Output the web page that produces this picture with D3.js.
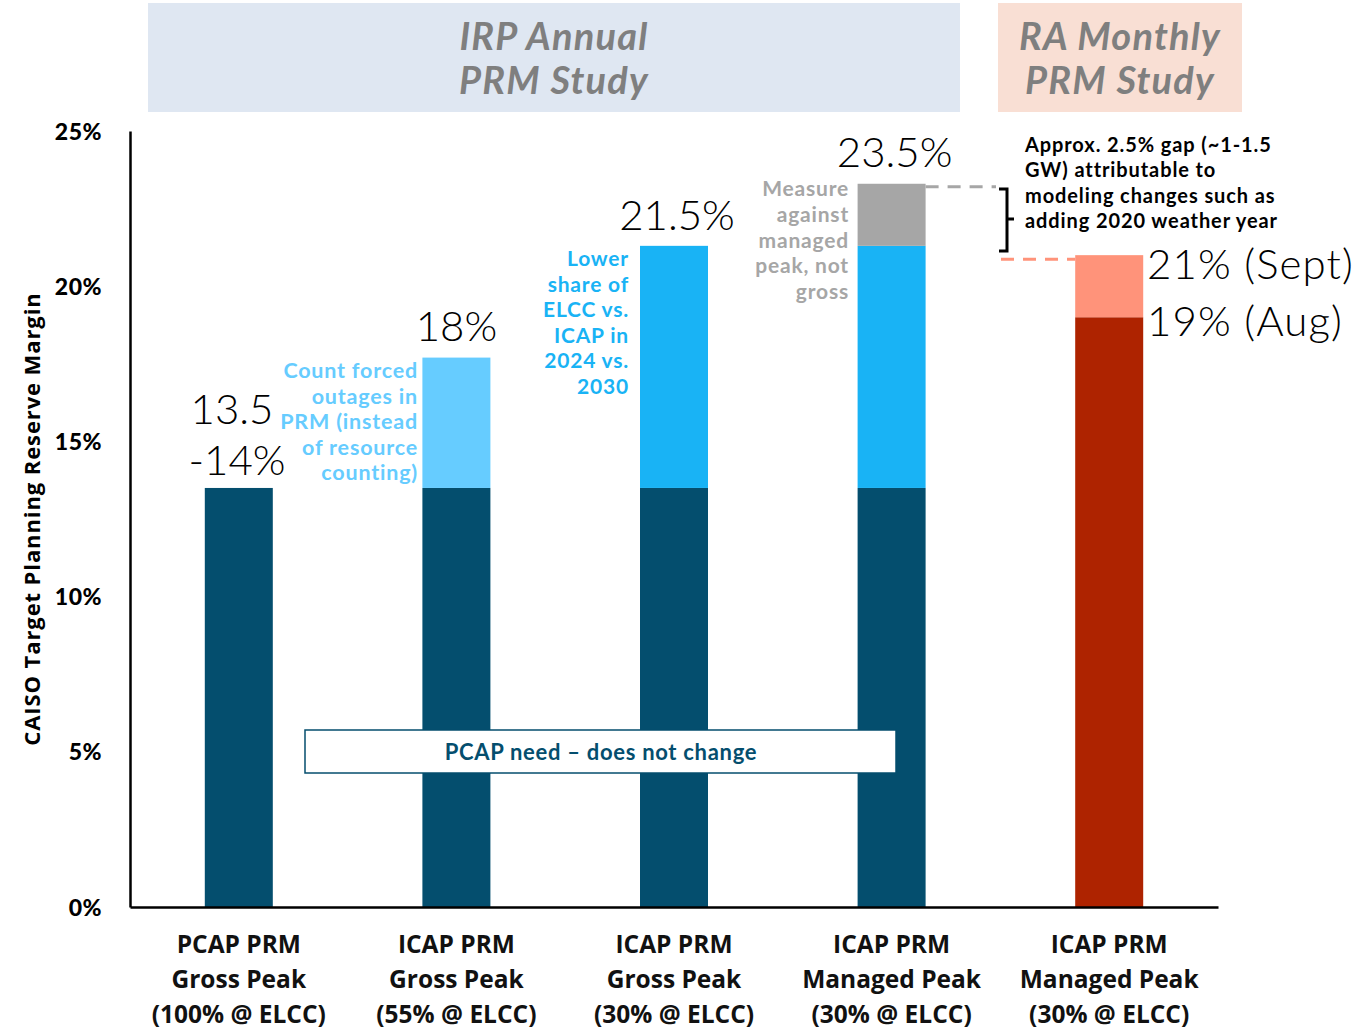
<!DOCTYPE html>
<html>
<head>
<meta charset="utf-8">
<style>
  *{margin:0;padding:0;box-sizing:border-box}
  body{background:#fff;width:1357px;height:1030px;overflow:hidden}
  svg{display:block}
</style>
</head>
<body>
<svg id="g"></svg>
<script src="https://cdn.jsdelivr.net/npm/d3@7/dist/d3.min.js"></script>
<script>
// data
const categories=['c1','c2','c3','c4','c5'];
const catLabels=[
  ['PCAP PRM','Gross Peak','(100% @ ELCC)'],
  ['ICAP PRM','Gross Peak','(55% @ ELCC)'],
  ['ICAP PRM','Gross Peak','(30% @ ELCC)'],
  ['ICAP PRM','Managed Peak','(30% @ ELCC)'],
  ['ICAP PRM','Managed Peak','(30% @ ELCC)']
];
const pcapBase=[13.5,13.5,13.5,13.5,0];
const forcedOutages=[0,4.2,0,0,0];
const lowerShare=[0,0,7.8,7.8,0];
const managedPeak=[0,0,0,2.0,0];
const raAug=[0,0,0,0,19];
const raSept=[0,0,0,0,2.0];
const yTicks=[0,5,10,15,20,25];

const DARK='#044E6E', LIGHT='#66CCFF', SKY='#19B3F5', GRAY='#A6A6A6', RED='#AE2300', SALMON='#FF937A';
const series=[
  {vals:pcapBase,color:DARK},
  {vals:forcedOutages,color:LIGHT},
  {vals:lowerShare,color:SKY},
  {vals:managedPeak,color:GRAY},
  {vals:raAug,color:RED},
  {vals:raSept,color:SALMON}
];

const W=1357,H=1030;
const svg=d3.select('#g').attr('width',W).attr('height',H);

const x=d3.scaleBand().domain(categories).range([130,1218]).paddingInner(0.6875).paddingOuter(0.34375);
const y=d3.scaleLinear().domain([0,25]).range([907,131]);

const GOTHIC='"Lato","Open Sans",sans-serif';
const CAL='"Open Sans","Noto Sans",sans-serif';

// header boxes
svg.append('rect').attr('x',148).attr('y',3).attr('width',812).attr('height',109).attr('fill','#DFE7F2');
svg.append('rect').attr('x',998).attr('y',3).attr('width',244).attr('height',109).attr('fill','#F9DFD4');
[[554,['IRP Annual','PRM Study']],[1120,['RA Monthly','PRM Study']]].forEach(([cx,lines])=>{
  lines.forEach((t,i)=>svg.append('text').attr('x',cx).attr('y',50+i*44)
    .attr('text-anchor','middle').attr('font-family',GOTHIC).attr('font-style','italic')
    .attr('font-weight',700).attr('font-size',38).attr('letter-spacing',1.2).attr('fill','#7F7F7F').text(t));
});

// stacked bars
const cum=categories.map(()=>0);
series.forEach(s=>{
  categories.forEach((c,i)=>{
    const v=s.vals[i];
    if(!v) return;
    const y0=cum[i], y1=cum[i]+v;
    cum[i]=y1;
    svg.append('rect').attr('x',x(c)).attr('width',x.bandwidth())
      .attr('y',y(y1)).attr('height',y(y0)-y(y1)).attr('fill',s.color);
  });
});

// axes
const yAxis=svg.append('g').attr('transform','translate(130,0)')
  .call(d3.axisLeft(y).tickValues(yTicks).tickSize(0).tickPadding(28).tickFormat(d=>d+'%'));
yAxis.select('.domain').attr('stroke','#000').attr('stroke-width',2.5);
yAxis.selectAll('text').attr('font-family',GOTHIC).attr('font-weight',900).attr('font-size',23)
  .attr('letter-spacing',0.5).attr('fill','#000').attr('dy','0.35em');

const xAxis=svg.append('g').attr('transform','translate(0,907)')
  .call(d3.axisBottom(x).tickSize(0).tickFormat(''));
xAxis.select('.domain').attr('stroke','#000').attr('stroke-width',2.5);

categories.forEach((c,i)=>{
  catLabels[i].forEach((t,j)=>svg.append('text').attr('x',x(c)+x.bandwidth()/2).attr('y',953+j*35)
    .attr('text-anchor','middle').attr('font-family',CAL).attr('font-weight',700)
    .attr('font-size',24.5).attr('fill','#111').text(t));
});

svg.append('text').attr('transform','translate(40,519) rotate(-90)')
  .attr('text-anchor','middle').attr('font-family',CAL).attr('font-weight',700)
  .attr('font-size',22).attr('letter-spacing',0.9).attr('fill','#000').text('CAISO Target Planning Reserve Margin');

// PCAP box
svg.append('rect').attr('x',305).attr('y',730).attr('width',591).attr('height',43)
  .attr('fill','#fff').attr('stroke',DARK).attr('stroke-width',1.5);
svg.append('text').attr('x',601).attr('y',760).attr('text-anchor','middle')
  .attr('font-family',GOTHIC).attr('font-weight',700).attr('font-size',22).attr('letter-spacing',0.7).attr('fill',DARK)
  .text('PCAP need – does not change');

// value labels
function big(t,xx,yy,anchor,ls){
  svg.append('text').attr('x',xx).attr('y',yy).attr('text-anchor',anchor||'middle')
    .attr('font-family',GOTHIC).attr('font-weight',300).attr('font-size',42)
    .attr('letter-spacing',ls||0).attr('fill','#000').text(t);
}
const cx=i=>x(categories[i])+x.bandwidth()/2;
big('13.5',232,424);
big('-14%',237,475);
big('18%',cx(1),341);
big('21.5%',cx(2)+3,230);
big('23.5%',cx(3)+3,167);
big('21% (Sept)',1147,279,'start',1.1);
big('19% (Aug)',1147,336,'start',1.1);

// side notes
function note(lines,xx,yy,color,anchor,size,step,ls){
  lines.forEach((t,i)=>svg.append('text').attr('x',xx).attr('y',yy+i*step)
    .attr('text-anchor',anchor).attr('font-family',GOTHIC).attr('font-weight',700)
    .attr('font-size',size).attr('letter-spacing',ls).attr('fill',color).text(t));
}
note(['Count forced','outages in','PRM (instead','of resource','counting)'],418,378,LIGHT,'end',21.5,25.6,0.8);
note(['Lower','share of','ELCC vs.','ICAP in','2024 vs.','2030'],629,266,SKY,'end',21,25.6,0.8);
note(['Measure','against','managed','peak, not','gross'],849,196,GRAY,'end',21,25.8,0.8);
note(['Approx. 2.5% gap (~1-1.5','GW) attributable to','modeling changes such as','adding 2020 weather year'],1025,152,'#000','start',20,25.3,0.9);

// dashed connectors
svg.append('line').attr('x1',x(categories[3])+x.bandwidth()).attr('x2',996)
  .attr('y1',y(23.3)+3).attr('y2',y(23.3)+3)
  .attr('stroke',GRAY).attr('stroke-width',3).attr('stroke-dasharray','13,9');
svg.append('line').attr('x1',1001).attr('x2',x(categories[4]))
  .attr('y1',y(21)+4).attr('y2',y(21)+4)
  .attr('stroke',SALMON).attr('stroke-width',3).attr('stroke-dasharray','13,9');

// brace
svg.append('path').attr('d','M999,189 H1007 V219 H1014 M1007,219 V251 H999')
  .attr('fill','none').attr('stroke','#000').attr('stroke-width',3);
</script>
</body>
</html>
